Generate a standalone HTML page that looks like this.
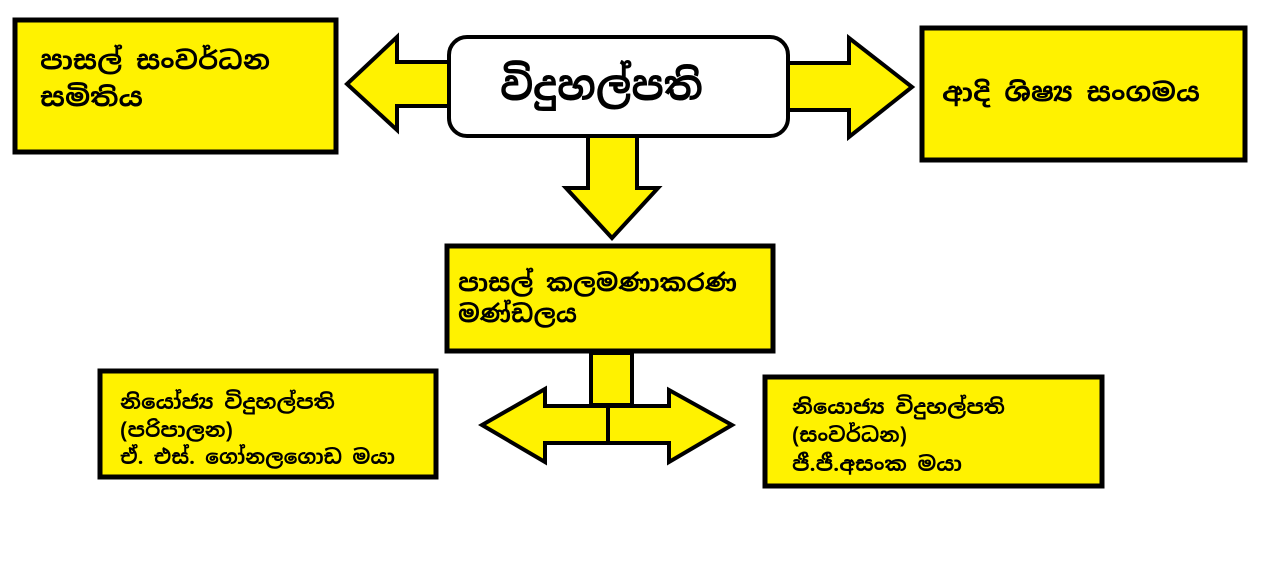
<!DOCTYPE html>
<html>
<head>
<meta charset="utf-8">
<style>
html,body{margin:0;padding:0;background:#fff;}
body{width:1274px;height:587px;overflow:hidden;position:relative;}
svg{position:absolute;left:0;top:0;}
text{font-family:"Iskoola Pota","Noto Sans Sinhala","LKLUG","Liberation Sans","DejaVu Sans",sans-serif;font-weight:bold;fill:#000;}
</style>
</head>
<body>
<svg width="1274" height="587" viewBox="0 0 1274 587" xmlns="http://www.w3.org/2000/svg">
  <g stroke="#000" stroke-width="4" stroke-linejoin="miter" fill="#fff200">
    <polygon points="452,62 397,62 397,37 347,84 397,130 397,106 452,106"/>
    <polygon points="786,63 849,63 849,38 912,87 849,137 849,110 786,110"/>
    <polygon points="588,135 588,188 566,188 612,238 658,188 637,188 637,135"/>
    <rect x="15" y="20" width="321" height="132" stroke-width="5"/>
    <rect x="922" y="28" width="323" height="132" stroke-width="5"/>
    <rect x="447" y="246" width="326" height="105" stroke-width="5"/>
    <rect x="100" y="371" width="336" height="106" stroke-width="5"/>
    <rect x="765" y="377" width="337" height="109" stroke-width="5"/>
    <rect x="591" y="353" width="41" height="52"/>
    <polygon points="608,406 545,406 545,389 482,425 545,462 545,443 608,443"/>
    <polygon points="608,406 669,406 669,390 732,425 669,462 669,443 608,443"/>
  </g>
  <rect x="449" y="37" width="339" height="99" rx="18" ry="18" fill="#fff" stroke="#000" stroke-width="4"/>

  <text x="500" y="100" font-size="41" textLength="203" lengthAdjust="spacingAndGlyphs">විදුහල්පති</text>

  <text x="40" y="69" font-size="25" textLength="230" lengthAdjust="spacingAndGlyphs">පාසල් සංවර්ධන</text>
  <text x="40" y="106" font-size="25" textLength="103" lengthAdjust="spacingAndGlyphs">සමිතිය</text>

  <text x="942" y="101" font-size="25" textLength="258" lengthAdjust="spacingAndGlyphs">ආදි ශිෂ්‍ය සංගමය</text>

  <text x="458" y="291" font-size="24" textLength="279" lengthAdjust="spacingAndGlyphs">පාසල් කලමණාකරණ</text>
  <text x="458" y="322" font-size="24" textLength="119" lengthAdjust="spacingAndGlyphs">මණ්ඩලය</text>

  <text x="120" y="409" font-size="20" textLength="215" lengthAdjust="spacingAndGlyphs">නියෝජ්‍ය විදුහල්පති</text>
  <text x="120" y="437" font-size="20" textLength="113" lengthAdjust="spacingAndGlyphs">(පරිපාලන)</text>
  <text x="120" y="464" font-size="20" textLength="275" lengthAdjust="spacingAndGlyphs">ඒ. එස්. ගෝනලගොඩ මයා</text>

  <text x="792" y="414" font-size="20" textLength="213" lengthAdjust="spacingAndGlyphs">නියොජ්‍ය විදුහල්පති</text>
  <text x="792" y="442" font-size="20" textLength="115" lengthAdjust="spacingAndGlyphs">(සංවර්ධන)</text>
  <text x="792" y="471" font-size="20" textLength="170" lengthAdjust="spacingAndGlyphs">ජී.ජී.අසංක මයා</text>
</svg>
</body>
</html>
